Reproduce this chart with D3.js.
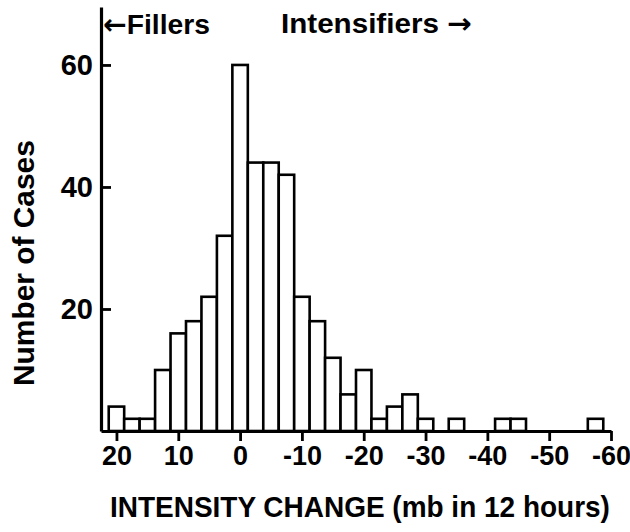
<!DOCTYPE html>
<html>
<head>
<meta charset="utf-8">
<script src="https://cdn.jsdelivr.net/npm/d3@7"></script>
<style>
  html, body { margin: 0; padding: 0; background: #fff; }
  svg { display: block; }
  text { font-family: "Liberation Sans", Arial, sans-serif; font-weight: bold; fill: #000; }
</style>
</head>
<body>
<svg id="chart" width="630" height="532"></svg>
<script>
// Bin centres (mb in 12 hours), bins 2.5 mb wide
const binCenters = [20, 17.5, 15, 12.5, 10, 7.5, 5, 2.5, 0, -2.5, -5, -7.5, -10, -12.5, -15, -17.5,
                    -20, -22.5, -25, -27.5, -30, -32.5, -35, -37.5, -40, -42.5, -45, -47.5, -50,
                    -52.5, -55, -57.5];
const caseCounts = [4, 2, 2, 10, 16, 18, 22, 32, 60, 44, 44, 42, 22, 18, 12, 6,
                    10, 2, 4, 6, 2, 0, 2, 0, 0, 2, 2, 0, 0,
                    0, 0, 2];
const xTicks = [20, 10, 0, -10, -20, -30, -40, -50, -60];
const yTicks = [20, 40, 60];
const binWidth = 2.5;

const svg = d3.select("#chart");

const x = d3.scaleLinear().domain([22.5, -60]).range([101, 611]);
const y = d3.scaleLinear().domain([0, 69.5]).range([431, 7]);

const bars = binCenters.map((c, i) => ({ c, v: caseCounts[i] })).filter(d => d.v > 0);

svg.append("g").selectAll("rect")
  .data(bars)
  .join("rect")
  .attr("x", d => x(d.c + binWidth / 2))
  .attr("width", d => x(d.c - binWidth / 2) - x(d.c + binWidth / 2))
  .attr("y", d => y(d.v))
  .attr("height", d => y(0) - y(d.v))
  .attr("fill", "#fff")
  .attr("stroke", "#000")
  .attr("stroke-width", 2.6);

// X axis
const xAxis = svg.append("g")
  .attr("transform", `translate(0,${y(0)})`)
  .call(d3.axisBottom(x).tickValues(xTicks).tickFormat(d => String(d))
    .tickSizeInner(10).tickSizeOuter(0).tickPadding(5));
xAxis.select(".domain").attr("stroke-width", 3.2);
xAxis.selectAll(".tick line").attr("stroke-width", 2.8);
xAxis.selectAll(".tick text")
  .style("font-family", '"Liberation Sans", Arial, sans-serif')
  .style("font-weight", "bold")
  .style("font-size", "27px")
  .attr("fill", "#000");

// Y axis
const yAxis = svg.append("g")
  .attr("transform", `translate(${x(22.5)},0)`)
  .call(d3.axisLeft(y).tickValues(yTicks)
    .tickSizeInner(-10).tickSizeOuter(0).tickPadding(8));
yAxis.select(".domain").attr("stroke-width", 3.2);
yAxis.selectAll(".tick line").attr("stroke-width", 2.8);
yAxis.selectAll(".tick text")
  .style("font-family", '"Liberation Sans", Arial, sans-serif')
  .style("font-weight", "bold")
  .style("font-size", "29px")
  .attr("fill", "#000");

// Text fitted horizontally to a target width via a scale transform
function fitText(g, tx, ty, width, rot) {
  const t = g.select("text");
  const w = t.node().getComputedTextLength();
  const s = width / w;
  g.attr("transform", `translate(${tx},${ty})` + (rot ? ` rotate(${rot})` : "") + ` scale(${s},1)`);
}

const gX = svg.append("g");
gX.append("text").style("font-size", "30px").text("INTENSITY CHANGE (mb in 12 hours)");
fitText(gX, 110, 517, 500, 0);

const gY = svg.append("g");
gY.append("text").style("font-size", "29px").text("Number of Cases");
fitText(gY, 34, 386, 246, -90);

const gF = svg.append("g");
const tF = gF.append("text").style("font-size", "28px");
tF.append("tspan").style("font-family", '"DejaVu Sans", sans-serif').style("font-size", "28px").text("←");
tF.append("tspan").text("Fillers");
fitText(gF, 103, 34, 107, 0);

const gI = svg.append("g");
const tI = gI.append("text").style("font-size", "28px");
tI.append("tspan").text("Intensifiers  ");
tI.append("tspan").style("font-family", '"DejaVu Sans", sans-serif').style("font-size", "28px").text("→");
fitText(gI, 281, 33, 191, 0);
</script>
</body>
</html>
